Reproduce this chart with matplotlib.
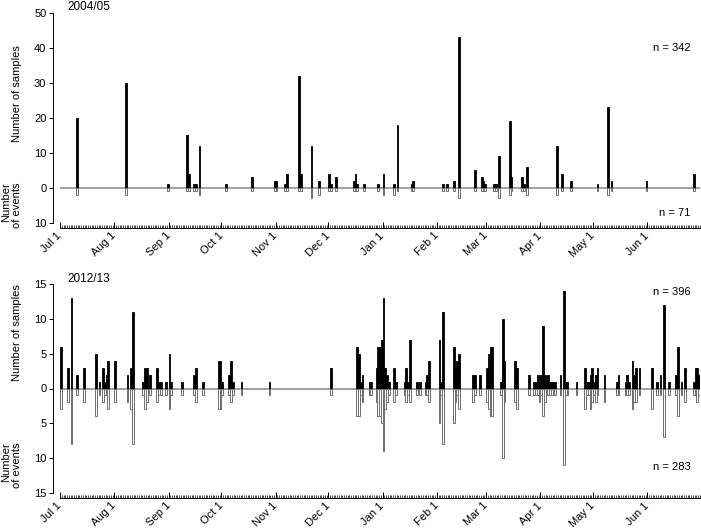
import numpy as np
import pandas as pd
import matplotlib
matplotlib.use("Agg")
import matplotlib.pyplot as plt
import matplotlib.transforms as mtransforms
from matplotlib.ticker import FixedLocator

plt.rcParams["font.family"] = ["Liberation Sans", "DejaVu Sans"]
plt.rcParams["font.size"] = 8

# day offsets from Jul 1, samples per day, sampling events per day
days_0405 = [9, 37, 61, 72, 73, 76, 77, 79, 94, 109, 122, 123, 128, 129, 136, 137,
             143, 147, 153, 154, 157, 167, 168, 169, 173, 181, 184, 190, 192, 200,
             201, 218, 220, 224, 227, 236, 240, 241, 242, 247, 248, 250, 256, 257,
             263, 264, 266, 283, 286, 291, 306, 312, 314, 334, 361]
samples_0405 = [20, 30, 1, 15, 4, 1, 1, 12, 1, 3, 2, 2, 1, 4, 32, 4,
                12, 2, 4, 1, 3, 2, 4, 1, 1, 1, 4, 1, 18, 1,
                2, 1, 1, 2, 43, 5, 3, 2, 1, 1, 1, 9, 19, 3,
                3, 1, 6, 12, 4, 2, 1, 23, 2, 2, 4]
events_0405 = [2, 2, 1, 1, 1, 1, 1, 2, 1, 1, 1, 1, 1, 1, 1, 1,
               3, 2, 1, 1, 1, 1, 1, 1, 1, 1, 2, 2, 1, 1,
               1, 1, 1, 1, 3, 1, 1, 1, 1, 1, 1, 3, 2, 1,
               1, 1, 2, 2, 1, 1, 1, 2, 1, 1, 1]

days_1213 = [0, 4, 6, 9, 13, 20, 22, 24, 25, 26, 27, 31, 38, 40, 41, 47, 48, 49, 51,
             55, 56, 57, 60, 62, 63, 69, 76, 77, 81, 90, 91, 92, 96, 97, 98, 103, 119,
             154, 169, 170, 171, 172, 176, 177, 180, 181, 182, 183, 184, 185, 186, 187,
             190, 191, 196, 197, 198, 199, 203, 205, 208, 209, 210, 216, 217, 218,
             224, 225, 226, 227, 235, 236, 239, 243, 244, 245, 246, 251, 252, 253,
             259, 260, 267, 270, 271, 272, 273, 274, 275, 276, 277, 278, 279, 280,
             281, 282, 285, 287, 288, 289, 294, 299, 300, 301, 302, 303, 304, 305,
             306, 310, 317, 318, 322, 323, 324, 326, 327, 328, 330, 337, 340, 342,
             344, 347, 351, 352, 354, 356, 361, 362, 363, 364]
samples_1213 = [6, 3, 13, 2, 3, 5, 1, 3, 1, 2, 4, 4, 2, 3, 11, 1, 3, 3, 2,
                3, 1, 1, 1, 5, 1, 1, 2, 3, 1, 4, 4, 1, 2, 4, 1, 1, 1,
                3, 6, 5, 1, 2, 1, 1, 3, 6, 6, 7, 13, 3, 2, 1,
                3, 1, 1, 3, 1, 7, 1, 1, 1, 2, 4, 7, 1, 11,
                6, 3, 4, 5, 2, 2, 2, 3, 5, 6, 6, 1, 10, 4,
                4, 3, 2, 1, 1, 2, 1, 2, 9, 2, 1, 2, 1, 1,
                1, 1, 2, 14, 1, 1, 1, 3, 1, 1, 2, 3, 1, 2,
                3, 2, 1, 2, 1, 2, 1, 4, 2, 3, 3, 3, 1, 2,
                12, 1, 2, 6, 1, 3, 1, 3, 3, 2]
events_1213 = [3, 2, 8, 1, 2, 4, 1, 2, 1, 1, 3, 2, 2, 3, 8, 1, 3, 2, 1,
               2, 1, 1, 1, 3, 1, 1, 1, 2, 1, 3, 3, 1, 1, 2, 1, 1, 1,
               1, 4, 4, 1, 2, 1, 1, 2, 4, 4, 5, 9, 3, 2, 1,
               2, 1, 1, 2, 1, 2, 1, 1, 1, 1, 2, 5, 1, 8,
               5, 2, 1, 3, 2, 1, 1, 2, 3, 4, 4, 1, 10, 2,
               2, 3, 1, 1, 1, 1, 2, 1, 4, 2, 1, 1, 1, 1,
               1, 1, 1, 11, 1, 1, 1, 3, 1, 1, 3, 2, 1, 2,
               1, 2, 1, 1, 1, 1, 1, 3, 2, 2, 1, 3, 1, 1,
               7, 1, 1, 4, 1, 2, 1, 1, 2, 1]

month_labels = ["Jul 1", "Aug 1", "Sep 1", "Oct 1", "Nov 1", "Dec 1",
                "Jan 1", "Feb 1", "Mar 1", "Apr 1", "May 1", "Jun 1"]
month_starts = (pd.date_range("2012-07-01", periods=12, freq="MS")
                - pd.Timestamp("2012-07-01")).days.values


def draw_panel(ax, days, samples, events, yneg, ymax, ystep, title, n_s, n_e,
               n_s_y, n_e_y, lab_s_y, lab_e_top):
    for s in ["top", "right"]:
        ax.spines[s].set_visible(False)
    ax.spines["left"].set_position(("outward", 4.8))
    ax.spines["bottom"].set_position(("outward", 3.6))
    ax.spines["left"].set_linewidth(0.7)
    ax.spines["bottom"].set_linewidth(0.7)

    days = np.array(days)
    ax.bar(days, samples, width=1, align="edge", color="black",
           edgecolor="black", linewidth=0.6, zorder=3)
    ax.bar(days, -np.array(events), width=1, align="edge", color="white",
           edgecolor="#6e6e6e", linewidth=0.7, zorder=3)
    ax.axhline(0, color="#9a9a9a", linewidth=1.3, zorder=2)

    ax.set_xlim(0, 365)
    ax.set_ylim(yneg, ymax)
    yt = np.arange(yneg, ymax + 1, ystep)
    ax.set_yticks(yt)
    ax.set_yticklabels([str(abs(v)) for v in yt])

    ax.xaxis.set_major_locator(FixedLocator(month_starts))
    ax.xaxis.set_minor_locator(FixedLocator(np.arange(0, 366)))
    ax.tick_params(axis="x", which="major", direction="in", length=4,
                   width=0.7, labelbottom=False)
    ax.tick_params(axis="x", which="minor", direction="in", length=2,
                   width=0.5)
    ax.tick_params(axis="y", direction="out", length=3, width=0.7, pad=2)

    # month labels, rotated with their right end at the tick
    trans = mtransforms.blended_transform_factory(ax.transData, ax.transAxes)
    trans = mtransforms.offset_copy(trans, fig=ax.figure, x=0, y=-8,
                                    units="points")
    for d, lab in zip(month_starts, month_labels):
        ax.text(d, 0, lab, transform=trans, rotation=45, ha="right",
                va="center", rotation_mode="anchor", clip_on=False)

    ax.text(0.985, n_s_y, n_s, transform=ax.transAxes, ha="right", va="center")
    ax.text(0.985, n_e_y, n_e, transform=ax.transAxes, ha="right", va="center")

    fig = ax.figure
    bb = ax.get_position()
    fig.text(67 / 701, bb.y1 + 5.5 / 532, title, ha="left", va="center",
             fontsize=8.5)
    fig.text(17 / 701, 1 - lab_s_y / 532, "Number of samples", rotation=90,
             ha="center", va="center")
    fig.text(12 / 701, 1 - lab_e_top / 532, "Number\nof events", rotation=90,
             ha="center", va="top", multialignment="right",
             linespacing=1.1)


fig = plt.figure(figsize=(7.01, 5.32), dpi=100)
ax1 = fig.add_axes([60 / 701, 1 - 223 / 532, 640 / 701, (223 - 12.7) / 532])
ax2 = fig.add_axes([60 / 701, 1 - 493 / 532, 640 / 701, (493 - 284) / 532])

draw_panel(ax1, days_0405, samples_0405, events_0405, -10, 50, 10, "2004/05",
           "n = 342", "n = 71", 0.834, 0.048, 94, 182)
draw_panel(ax2, days_1213, samples_1213, events_1213, -15, 15, 5, "2012/13",
           "n = 396", "n = 283", 0.96, 0.123, 333, 442)

fig.savefig("out.png", dpi=100)
